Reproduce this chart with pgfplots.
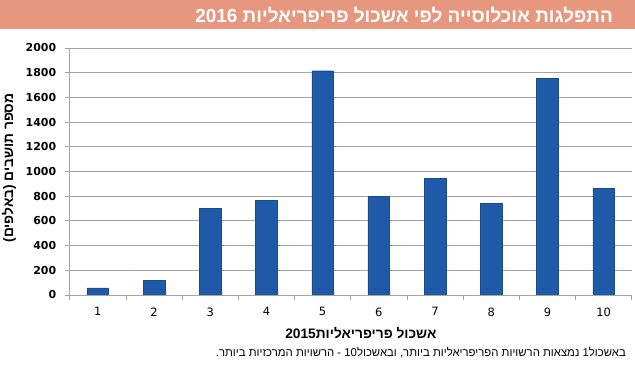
\documentclass[border=0pt]{standalone}
\usepackage{fontspec}
\setmainfont{Liberation Sans}
\newfontfamily\heb[Script=Hebrew]{Liberation Sans}
\newfontfamily\num{DejaVu Sans}
\usepackage{pgfplots}
\pgfplotsset{compat=1.18}
\TeXXeTstate=1
\definecolor{barblue}{RGB}{30,90,168}
\definecolor{banner}{RGB}{231,151,126}
\definecolor{gridgray}{RGB}{165,165,165}
\begin{document}
\begin{tikzpicture}
\path[use as bounding box] (0,0) rectangle (635bp,389bp);
\fill[banner] (0,359.5bp) rectangle (635bp,389bp);
\node[anchor=east, text=white, font=\heb\bfseries\fontsize{19}{22}\selectfont, inner sep=0pt] at (613bp,374bp) {2016 \beginR התפלגות אוכלוסייה לפי אשכול פריפריאליות\endR};
\begin{axis}[
  at={(69.7bp,94bp)}, anchor=south west,
  scale only axis, width=562bp, height=247bp,
  xmin=0.5, xmax=10.5, ymin=0, ymax=2000,
  ybar, bar width=21.7bp, bar shift=0pt,
  xtick={0.5,1.5,...,10.5}, xticklabels={},
  extra x ticks={1,2,3,4,5,6,7,8,9,10},
  extra x tick labels={1,2,3,4,5,6,7,8,9,10},
  extra x tick style={major tick length=0pt, tick style={draw=none}},
  ytick={0,200,...,2000},
  ymajorgrids, grid style={gridgray, line width=0.8pt},
  axis x line*=bottom, axis y line*=left,
  axis line style={gridgray, line width=0.8pt, -},
  tick align=outside, major tick length=5bp,
  tick style={gridgray, line width=0.8pt},
  yticklabel style={font=\num\bfseries\fontsize{11}{13}\selectfont, xshift=-5bp},
  xticklabel style={font=\num\fontsize{11.5}{13}\selectfont, yshift=-9bp},
  scaled y ticks=false,
  /pgf/number format/1000 sep={},
  /pgf/number format/assume math mode=true,
  xlabel={\heb\bfseries 2015\beginR אשכול פריפריאליות\endR},
  xlabel style={at={(axis description cs:0.518,-0.154)}, anchor=center, font=\fontsize{13.8}{16}\selectfont},
  ylabel={\heb\bfseries\beginR מספר תושבים (באלפים)\endR},
  ylabel style={at={(axis description cs:-0.108,0.514)}, anchor=center, rotate=0, font=\fontsize{13.8}{16}\selectfont},
]
\addplot[fill=barblue, draw=barblue!85!black, line width=0.4pt] coordinates {
 (1,57) (2,116) (3,700) (4,765) (5,1816) (6,798) (7,944) (8,740) (9,1755) (10,866)
};
\end{axis}
\node[anchor=east, font=\heb\fontsize{11.4}{13}\selectfont, inner sep=0pt] at (626bp,36.3bp) {\beginR באשכול\beginL1\endL{} נמצאות הרשויות הפריפריאליות ביותר, ובאשכול\beginL10\endL{} - הרשויות המרכזיות ביותר.\endR};
\end{tikzpicture}
\end{document}
